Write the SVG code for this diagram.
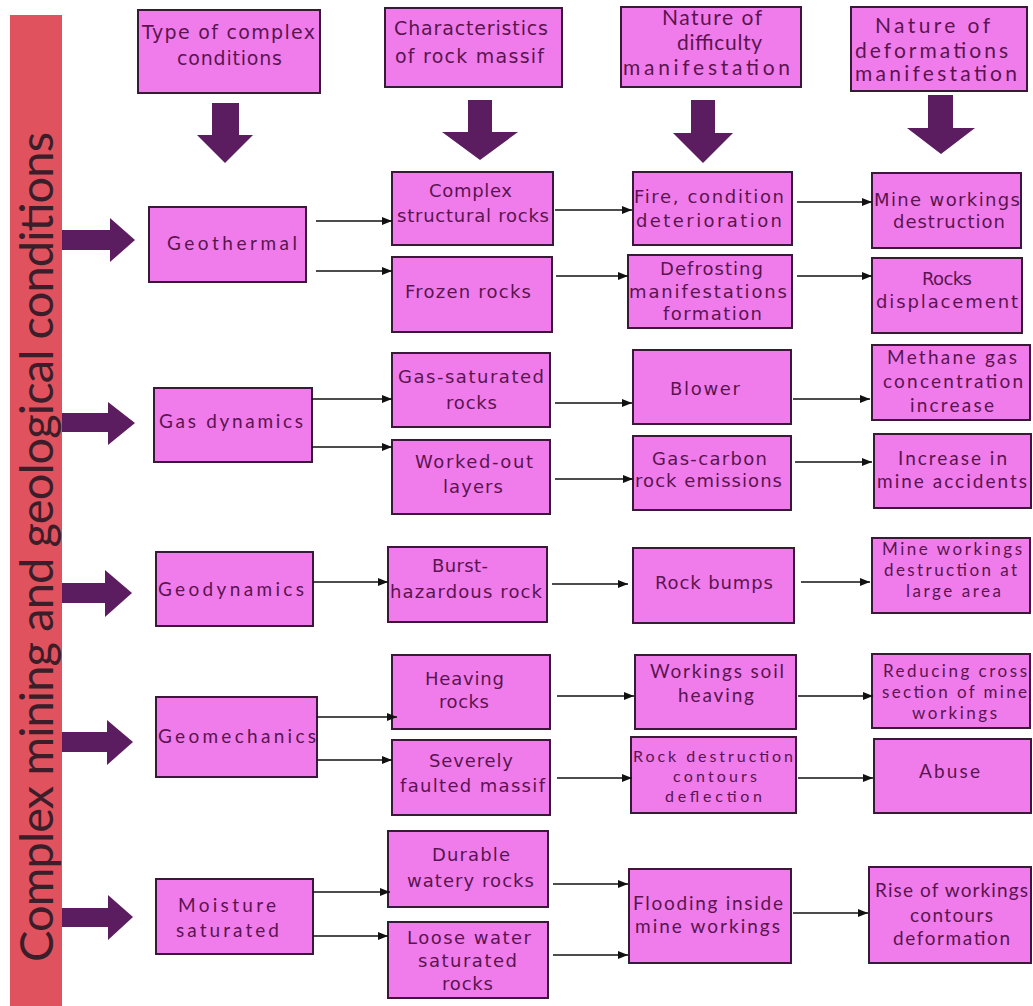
<svg xmlns="http://www.w3.org/2000/svg" width="1033" height="1006" viewBox="0 0 1033 1006">
<style>
.box{fill:#f07ceb;stroke:#3a1838;stroke-width:2}
.dv{font-family:"DejaVu Sans",sans-serif;font-size:18px;fill:#5a1450}
.hdv{font-family:"DejaVu Sans",sans-serif;font-size:19px;fill:#5a1450}
.lt{font-family:Lato,"Open Sans",sans-serif;font-size:19px;fill:#5a1450}
.lts{font-family:Lato,"Open Sans",sans-serif;font-size:17px;fill:#5a1450}
.ltx{font-family:Lato,"Open Sans",sans-serif;font-size:16px;fill:#5a1450}
.hlt{font-family:Lato,"Open Sans",sans-serif;font-size:21px;fill:#5a1450}
.big{fill:#5c1d60}
.con line{stroke:#111;stroke-width:1.6;marker-end:url(#ah)}
</style>
<defs>
<marker id="ah" markerWidth="10" markerHeight="8" refX="10" refY="4" orient="auto" markerUnits="userSpaceOnUse"><path d="M0,0 L10,4 L0,8 z" fill="#111"/></marker>
</defs>
<rect width="1033" height="1006" fill="#ffffff"/>

<g id="side-bar">
<rect x="10" y="15" width="52" height="991" fill="#e0525e"/>
<text transform="translate(53,962) rotate(-90)" x="0" y="0" textLength="830" font-family="Lato,'Open Sans',sans-serif" font-size="47" fill="#3b1e2a">Complex mining and geological conditions</text>
</g>

<g id="side-arrows" class="big">
<polygon points="62,230 110,230 110,218 135,240 110,262 110,250 62,250"/>
<polygon points="62,413 108,413 108,402 135,423 108,445 108,432 62,432"/>
<polygon points="62,583 105,583 105,570 132,593 105,617 105,603 62,603"/>
<polygon points="62,732 107,732 107,720 133,742 107,765 107,752 62,752"/>
<polygon points="62,908 108,908 108,895 133,917 108,940 108,927 62,927"/>
</g>

<g id="down-arrows" class="big">
<polygon points="212,103 239,103 239,135 253,135 225,163 197,135 212,135"/>
<polygon points="468,100 492,100 492,132 518,132 480,160 442,132 468,132"/>
<polygon points="691,100 715,100 715,133 733,133 703,163 673,133 691,133"/>
<polygon points="928,95 953,95 953,128 975,128 941,154 907,128 928,128"/>
</g>

<g id="h1"><rect class="box" x="138" y="10" width="182" height="83"/>
<text class="hdv" x="142" y="39" textLength="173">Type of complex</text>
<text class="hdv" x="177" y="65" textLength="105">conditions</text></g>
<g id="h2"><rect class="box" x="385" y="8" width="177" height="79"/>
<text class="hdv" x="394" y="35" textLength="154">Characteristics</text>
<text class="hdv" x="395" y="63" textLength="149">of rock massif</text></g>
<g id="h3"><rect class="box" x="621" y="7" width="180" height="80"/>
<text class="hlt" x="662" y="25" textLength="100">Nature of</text>
<text class="hlt" x="677" y="50" textLength="85">difficulty</text>
<text class="hlt" x="623" y="75" textLength="167">manifestation</text></g>
<g id="h4"><rect class="box" x="851" y="7" width="176" height="84"/>
<text class="hlt" x="875" y="33" textLength="115">Nature of</text>
<text class="hlt" x="855" y="58" textLength="153">deformations</text>
<text class="hlt" x="855" y="81" textLength="162">manifestation</text></g>

<g id="geothermal"><rect class="box" x="149" y="207" width="157" height="75"/>
<text class="lt" x="167" y="250" textLength="130">Geothermal</text></g>
<g id="gas-dynamics"><rect class="box" x="154" y="388" width="158" height="74"/>
<text class="lt" x="159" y="428" textLength="144">Gas dynamics</text></g>
<g id="geodynamics"><rect class="box" x="156" y="552" width="157" height="74"/>
<text class="lt" x="158" y="596" textLength="146">Geodynamics</text></g>
<g id="geomechanics"><rect class="box" x="156" y="697" width="161" height="80"/>
<text class="lt" x="158" y="743" textLength="158">Geomechanics</text></g>
<g id="moisture"><rect class="box" x="156" y="879" width="157" height="75"/>
<text class="lt" x="178" y="912" textLength="98">Moisture</text>
<text class="lt" x="176" y="937" textLength="103">saturated</text></g>

<g id="complex-structural"><rect class="box" x="392" y="172" width="161" height="73"/>
<text class="dv" x="429" y="197" textLength="83">Complex</text>
<text class="dv" x="397" y="222" textLength="152">structural rocks</text></g>
<g id="frozen"><rect class="box" x="392" y="257" width="160" height="75"/>
<text class="dv" x="405" y="298" textLength="126">Frozen rocks</text></g>
<g id="gas-saturated"><rect class="box" x="392" y="353" width="158" height="74"/>
<text class="dv" x="398" y="383" textLength="146">Gas-saturated</text>
<text class="dv" x="446" y="409" textLength="51">rocks</text></g>
<g id="worked-out"><rect class="box" x="392" y="440" width="158" height="74"/>
<text class="dv" x="415" y="468" textLength="118">Worked-out</text>
<text class="dv" x="443" y="493" textLength="60">layers</text></g>
<g id="burst"><rect class="box" x="388" y="547" width="159" height="75"/>
<text class="dv" x="432" y="572" textLength="56">Burst-</text>
<text class="dv" x="390" y="598" textLength="152">hazardous rock</text></g>
<g id="heaving"><rect class="box" x="392" y="655" width="158" height="74"/>
<text class="dv" x="425" y="685" textLength="79">Heaving</text>
<text class="dv" x="439" y="708" textLength="50">rocks</text></g>
<g id="faulted"><rect class="box" x="392" y="740" width="158" height="75"/>
<text class="dv" x="429" y="767" textLength="84">Severely</text>
<text class="dv" x="400" y="792" textLength="145">faulted massif</text></g>
<g id="durable"><rect class="box" x="388" y="831" width="160" height="76"/>
<text class="dv" x="432" y="861" textLength="78">Durable</text>
<text class="dv" x="407" y="887" textLength="127">watery rocks</text></g>
<g id="loose"><rect class="box" x="388" y="922" width="160" height="76"/>
<text class="dv" x="407" y="944" textLength="124">Loose water</text>
<text class="dv" x="418" y="967" textLength="99">saturated</text>
<text class="dv" x="442" y="990" textLength="51">rocks</text></g>

<g id="fire"><rect class="box" x="633" y="172" width="159" height="73"/>
<text class="dv" x="634" y="203" textLength="150">Fire, condition</text>
<text class="dv" x="636" y="227" textLength="146">deterioration</text></g>
<g id="defrosting"><rect class="box" x="628" y="255" width="164" height="73"/>
<text class="dv" x="660" y="275" textLength="103">Defrosting</text>
<text class="dv" x="629" y="298" textLength="158">manifestations</text>
<text class="dv" x="663" y="320" textLength="99">formation</text></g>
<g id="blower"><rect class="box" x="633" y="350" width="158" height="74"/>
<text class="dv" x="670" y="395" textLength="70">Blower</text></g>
<g id="gas-carbon"><rect class="box" x="633" y="436" width="158" height="74"/>
<text class="dv" x="652" y="465" textLength="115">Gas-carbon</text>
<text class="dv" x="635" y="487" textLength="147">rock emissions</text></g>
<g id="rock-bumps"><rect class="box" x="633" y="548" width="161" height="75"/>
<text class="dv" x="655" y="589" textLength="118">Rock bumps</text></g>
<g id="soil-heaving"><rect class="box" x="635" y="655" width="161" height="74"/>
<text class="lt" x="650" y="678" textLength="134">Workings soil</text>
<text class="lt" x="678" y="702" textLength="76">heaving</text></g>
<g id="rock-destruction"><rect class="box" x="631" y="737" width="165" height="76"/>
<text class="ltx" x="633" y="762" textLength="160">Rock destruction</text>
<text class="ltx" x="673" y="782" textLength="84">contours</text>
<text class="ltx" x="665" y="802" textLength="97">deflection</text></g>
<g id="flooding"><rect class="box" x="629" y="869" width="162" height="94"/>
<text class="lt" x="633" y="910" textLength="150">Flooding inside</text>
<text class="lt" x="635" y="933" textLength="145">mine workings</text></g>

<g id="mine-destruction"><rect class="box" x="872" y="173" width="149" height="75"/>
<text class="dv" x="874" y="206" textLength="146">Mine workings</text>
<text class="dv" x="893" y="228" textLength="112">destruction</text></g>
<g id="rocks-displacement"><rect class="box" x="872" y="258" width="150" height="75"/>
<text class="dv" x="922" y="285" textLength="50">Rocks</text>
<text class="dv" x="876" y="308" textLength="142">displacement</text></g>
<g id="methane"><rect class="box" x="872" y="345" width="158" height="75"/>
<text class="lt" x="887" y="364" textLength="130">Methane gas</text>
<text class="lt" x="883" y="388" textLength="140">concentration</text>
<text class="lt" x="910" y="412" textLength="84">increase</text></g>
<g id="accidents"><rect class="box" x="874" y="434" width="157" height="74"/>
<text class="lt" x="898" y="465" textLength="109">Increase in</text>
<text class="lt" x="877" y="488" textLength="150">mine accidents</text></g>
<g id="large-area"><rect class="box" x="872" y="538" width="158" height="75"/>
<text class="lts" x="882" y="555" textLength="140">Mine workings</text>
<text class="lts" x="884" y="576" textLength="133">destruction at</text>
<text class="lts" x="906" y="597" textLength="95">large area</text></g>
<g id="cross-section"><rect class="box" x="872" y="654" width="158" height="74"/>
<text class="lts" x="883" y="677" textLength="144">Reducing cross</text>
<text class="lts" x="882" y="698" textLength="145">section of mine</text>
<text class="lts" x="912" y="719" textLength="85">workings</text></g>
<g id="abuse"><rect class="box" x="874" y="739" width="157" height="74"/>
<text class="lt" x="919" y="778" textLength="61">Abuse</text></g>
<g id="rise"><rect class="box" x="869" y="867" width="162" height="96"/>
<text class="lt" x="875" y="897" textLength="153">Rise of workings</text>
<text class="lt" x="910" y="922" textLength="83">contours</text>
<text class="lt" x="893" y="945" textLength="117">deformation</text></g>

<g id="connectors" class="con">
<line x1="316" y1="221" x2="392" y2="221"/>
<line x1="316" y1="271" x2="392" y2="271"/>
<line x1="312" y1="399" x2="392" y2="399"/>
<line x1="312" y1="447" x2="392" y2="447"/>
<line x1="313" y1="582" x2="388" y2="582"/>
<line x1="317" y1="717" x2="397" y2="717"/>
<line x1="317" y1="760" x2="392" y2="760"/>
<line x1="313" y1="892" x2="390" y2="892"/>
<line x1="313" y1="936" x2="388" y2="936"/>
<line x1="555" y1="210" x2="632" y2="210"/>
<line x1="556" y1="276" x2="628" y2="276"/>
<line x1="555" y1="403" x2="632" y2="403"/>
<line x1="555" y1="479" x2="633" y2="479"/>
<line x1="552" y1="584" x2="628" y2="584"/>
<line x1="557" y1="696" x2="634" y2="696"/>
<line x1="557" y1="778" x2="632" y2="778"/>
<line x1="553" y1="884" x2="628" y2="884"/>
<line x1="553" y1="955" x2="628" y2="955"/>
<line x1="797" y1="202" x2="872" y2="202"/>
<line x1="797" y1="276" x2="872" y2="276"/>
<line x1="793" y1="399" x2="870" y2="399"/>
<line x1="795" y1="462" x2="872" y2="462"/>
<line x1="801" y1="582" x2="870" y2="582"/>
<line x1="798" y1="696" x2="873" y2="696"/>
<line x1="798" y1="778" x2="873" y2="778"/>
<line x1="793" y1="913" x2="868" y2="913"/>
</g>
</svg>
